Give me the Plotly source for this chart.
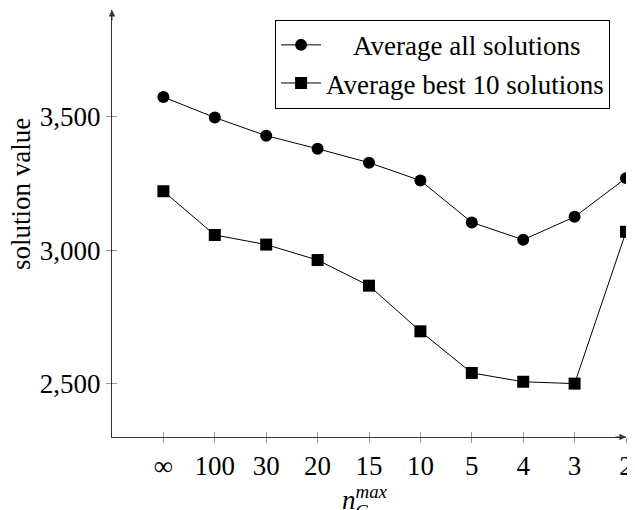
import plotly.graph_objects as go

categories = ["∞", "100", "30", "20", "15", "10", "5", "4", "3", "2"]
avg_all = [3574, 3497, 3429, 3380, 3328, 3261, 3104, 3039, 3125, 3270]
avg_best10 = [3221, 3057, 3021, 2963, 2867, 2696, 2540, 2507, 2500, 3069]
y_ticks = [2500, 3000, 3500]
series_names = ["Average all solutions", "Average best 10 solutions"]

FONT = "Liberation Serif"
FS = 27
idx = list(range(len(categories)))

fig = go.Figure()
fig.add_trace(go.Scatter(
    x=idx, y=avg_all, mode="lines+markers",
    name="\u00a0\u00a0\u00a0\u00a0" + series_names[0],
    line=dict(color="black", width=1),
    marker=dict(symbol="circle", size=12, color="black"),
))
fig.add_trace(go.Scatter(
    x=idx, y=avg_best10, mode="lines+markers", name=series_names[1],
    line=dict(color="black", width=1),
    marker=dict(symbol="square", size=12, color="black"),
))
# invisible trace so the overlaying axes (inside ticks) are drawn
fig.add_trace(go.Scatter(x=[idx[0]], y=[y_ticks[0]], xaxis="x2", yaxis="y2",
                         mode="markers", marker=dict(opacity=0), showlegend=False,
                         hoverinfo="skip"))

xr = [-1, len(categories) - 1]
yr = [2300, 3900]

fig.update_layout(
    width=627, height=502,
    margin=dict(l=104, r=5, t=2, b=73),
    plot_bgcolor="white", paper_bgcolor="white",
    font=dict(family=FONT, size=FS, color="black"),
    showlegend=True,
    legend=dict(
        x=0.969, y=0.977, xanchor="right", yanchor="top",
        bordercolor="black", borderwidth=1, bgcolor="white",
        font=dict(family=FONT, size=27),
        tracegroupgap=0, itemwidth=40,
    ),
    xaxis=dict(
        range=xr, tickmode="array", tickvals=idx, ticktext=categories,
        showgrid=False, zeroline=False, showline=True, linecolor="#333", linewidth=1,
        ticks="outside", ticklen=5, tickcolor="#999", tickwidth=1,
        tickfont=dict(family=FONT, size=FS), ticklabeloverflow="allow",
    ),
    yaxis=dict(
        range=yr, tickmode="array", tickvals=y_ticks,
        ticktext=[f"{v:,}" for v in y_ticks],
        showgrid=False, zeroline=False, showline=True, linecolor="#333", linewidth=1,
        ticks="outside", ticklen=5, tickcolor="#999", tickwidth=1,
        tickfont=dict(family=FONT, size=FS),
    ),
    xaxis2=dict(
        overlaying="x", range=xr, tickmode="array", tickvals=idx,
        showticklabels=False, showgrid=False, zeroline=False, showline=False,
        ticks="inside", ticklen=5, tickcolor="#999", tickwidth=1, side="bottom",
    ),
    yaxis2=dict(
        overlaying="y", range=yr, tickmode="array", tickvals=y_ticks,
        showticklabels=False, showgrid=False, zeroline=False, showline=False,
        ticks="inside", ticklen=5, tickcolor="#999", tickwidth=1, side="left",
    ),
)

# axis arrows
fig.add_annotation(x=0, y=1, xref="paper", yref="paper", ax=0, ay=12,
                   showarrow=True, arrowhead=2, arrowsize=1.3, arrowwidth=1,
                   arrowcolor="#333", text="")
fig.add_annotation(x=1, y=0, xref="paper", yref="paper", ax=-12, ay=0,
                   showarrow=True, arrowhead=2, arrowsize=1.3, arrowwidth=1,
                   arrowcolor="#333", text="")

# y axis title
fig.add_annotation(x=0, y=0.569, xref="paper", yref="paper", xshift=-91,
                   text="solution value", textangle=-90, showarrow=False,
                   font=dict(family=FONT, size=FS), xanchor="center", yanchor="middle",
                   borderpad=0)
# x axis title: n_C^max
fig.add_annotation(x=0.444, y=0, xref="paper", yref="paper", yshift=-80,
                   text="<i>n</i><sup><i>max</i></sup>", showarrow=False,
                   font=dict(family=FONT, size=FS), xanchor="left", yanchor="bottom")
fig.add_annotation(x=0.469, y=0, xref="paper", yref="paper", yshift=-62,
                   text="<i>C</i>", showarrow=False,
                   font=dict(family=FONT, size=19), xanchor="left", yanchor="top")

fig.write_html("out.html")
